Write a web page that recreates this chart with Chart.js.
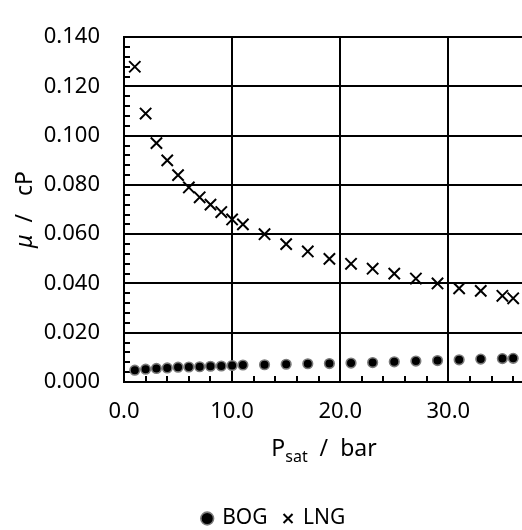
<!DOCTYPE html>
<html>
<head>
<meta charset="utf-8">
<script src="https://cdn.jsdelivr.net/npm/chart.js@4.4.1/dist/chart.umd.min.js"></script>
<style>
  html, body { margin: 0; padding: 0; background: #fff; overflow: hidden; }
  #wrap { width: 548px; height: 530px; }
</style>
</head>
<body>
<div id="wrap"><canvas id="viscosityChart" width="548" height="530"></canvas></div>
<script>
// Saturation pressure (bar) of each measured state
const pressures = [1, 2, 3, 4, 5, 6, 7, 8, 9, 10, 11, 13, 15, 17, 19, 21, 23, 25, 27, 29, 31, 33, 35, 36];

// Viscosity (cP) of the vapour (BOG) and liquid (LNG) phases
const bogViscosity = [0.0048, 0.0052, 0.0055, 0.0057, 0.0060, 0.0061, 0.0062, 0.0064, 0.0065, 0.0067, 0.0069, 0.0070,
                      0.0072, 0.0074, 0.0075, 0.0077, 0.0079, 0.0082, 0.0085, 0.0087, 0.0090, 0.0093, 0.0095, 0.0096];
const lngViscosity = [0.128, 0.109, 0.097, 0.090, 0.084, 0.079, 0.075, 0.072, 0.069, 0.066, 0.064, 0.060,
                      0.056, 0.053, 0.050, 0.048, 0.046, 0.044, 0.042, 0.040, 0.038, 0.037, 0.035, 0.034];

// Axis ranges and tick spacing
const xRange = [0, 37];
const yRange = [0, 0.14];
const xMajorStep = 10, xMinorStep = 2;
const yMajorStep = 0.02, yMinorStep = 0.004;

const FONT = '"Noto Sans", sans-serif';
const RIGHT_PAD = 24;

const toPoints = values => pressures.map((p, i) => ({ x: p, y: values[i] }));

// Short inward ticks between the major grid lines
const minorTicks = {
    id: 'minorTicks',
    beforeDatasetsDraw(chart) {
        const { ctx, chartArea, scales: { x, y } } = chart;
        ctx.save();
        ctx.strokeStyle = '#000';
        ctx.lineWidth = 2;
        ctx.beginPath();
        const nx = Math.floor((xRange[1] - xRange[0]) / xMinorStep);
        const perMajorX = Math.round(xMajorStep / xMinorStep);
        for (let i = 1; i <= nx; i++) {
            if (i % perMajorX === 0) continue;
            const px = Math.round(x.getPixelForValue(xRange[0] + i * xMinorStep));
            ctx.moveTo(px, chartArea.bottom);
            ctx.lineTo(px, chartArea.bottom - 6);
        }
        const ny = Math.round((yRange[1] - yRange[0]) / yMinorStep);
        const perMajorY = Math.round(yMajorStep / yMinorStep);
        for (let i = 1; i < ny; i++) {
            if (i % perMajorY === 0) continue;
            const py = Math.round(y.getPixelForValue(yRange[0] + i * yMinorStep));
            ctx.moveTo(chartArea.left, py);
            ctx.lineTo(chartArea.left + 6, py);
        }
        ctx.stroke();
        ctx.restore();
    }
};

// Center the legend on the full canvas rather than the padded box
const legendCenter = {
    id: 'legendCenter',
    afterLayout(chart) {
        const legend = chart.legend;
        if (!legend) return;
        legend.left += RIGHT_PAD / 2;
        legend.right += RIGHT_PAD / 2;
    }
};

// Axis titles with subscript / italic pieces
const axisTitles = {
    id: 'axisTitles',
    afterDraw(chart) {
        const { ctx, chartArea } = chart;
        const big = `23px ${FONT}`;
        const small = `16px ${FONT}`;

        const drawRun = (parts, startX, baseY) => {
            let cx = startX;
            parts.forEach(([text, font, dy]) => {
                ctx.font = font;
                ctx.fillText(text, cx, baseY + dy);
                cx += ctx.measureText(text).width;
            });
        };
        const runWidth = parts => parts.reduce((w, [text, font]) => {
            ctx.font = font;
            return w + ctx.measureText(text).width;
        }, 0);

        ctx.save();
        ctx.fillStyle = '#000';
        ctx.textBaseline = 'alphabetic';
        ctx.textAlign = 'left';

        const xParts = [['P', big, 0], ['sat', small, 6], ['  /  bar', big, 0]];
        const xMid = (chartArea.left + chartArea.right) / 2;
        drawRun(xParts, xMid - runWidth(xParts) / 2, chartArea.bottom + 74);

        const yParts = [['\u03bc', `italic ${big}`, 0], ['  /   cP', big, 0]];
        ctx.translate(chartArea.left - 92, (chartArea.top + chartArea.bottom) / 2);
        ctx.rotate(-Math.PI / 2);
        drawRun(yParts, -runWidth(yParts) / 2, 0);
        ctx.restore();
    }
};

new Chart(document.getElementById('viscosityChart'), {
    type: 'scatter',
    data: {
        datasets: [
            {
                label: 'BOG',
                data: toPoints(bogViscosity),
                pointStyle: 'circle',
                pointRadius: 4.8,
                backgroundColor: '#000',
                borderColor: '#7a7a7a',
                borderWidth: 1.6
            },
            {
                label: 'LNG',
                data: toPoints(lngViscosity),
                pointStyle: 'crossRot',
                pointRadius: 8,
                backgroundColor: '#000',
                borderColor: '#000',
                borderWidth: 2
            }
        ]
    },
    options: {
        responsive: false,
        animation: false,
        devicePixelRatio: 1,
        layout: { padding: { top: 17, right: RIGHT_PAD, bottom: -9, left: 0 } },
        plugins: {
            legend: {
                position: 'bottom',
                labels: {
                    usePointStyle: true,
                    boxWidth: 9,
                    boxHeight: 9,
                    padding: 16,
                    color: '#000',
                    font: { family: FONT, size: 21 }
                }
            },
            tooltip: { enabled: false }
        },
        scales: {
            x: {
                type: 'linear',
                min: xRange[0],
                max: xRange[1],
                border: { color: '#000', width: 2 },
                grid: { color: '#000', lineWidth: 2, drawTicks: false },
                ticks: {
                    stepSize: xMajorStep,
                    includeBounds: false,
                    padding: 17,
                    color: '#000',
                    font: { family: FONT, size: 22 },
                    callback: v => v.toFixed(1)
                },
                afterFit: scale => { scale.height = 110; }
            },
            y: {
                min: yRange[0],
                max: yRange[1],
                border: { color: '#000', width: 2 },
                grid: { color: '#000', lineWidth: 2, drawTicks: false },
                ticks: {
                    stepSize: yMajorStep,
                    padding: 24,
                    color: '#000',
                    font: { family: FONT, size: 22 },
                    callback: v => v.toFixed(3)
                },
                afterFit: scale => { scale.width = 124; }
            }
        }
    },
    plugins: [minorTicks, legendCenter, axisTitles]
});
</script>
</body>
</html>
